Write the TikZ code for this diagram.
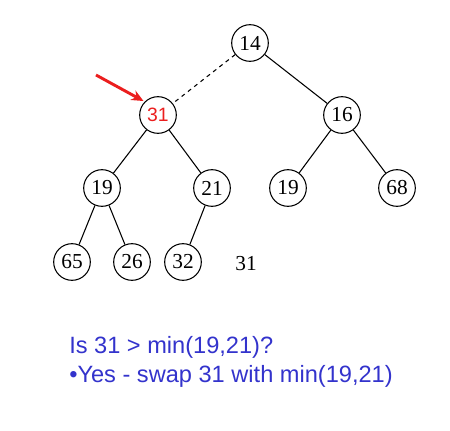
\documentclass[tikz,border=0pt]{standalone}
\usepackage{fontspec}
\setmainfont{Liberation Serif}
\setsansfont{Liberation Sans}
\usepackage{xcolor}
\usetikzlibrary{arrows.meta,positioning}
\definecolor{noteblue}{RGB}{51,51,204}
\definecolor{markred}{RGB}{235,30,30}

\begin{document}
\begin{tikzpicture}[
        x=0.75pt,y=-0.75pt,
        font=\fontsize{16}{18}\selectfont,
        >=Stealth,
        heapnode/.style={circle,draw,line width=0.8pt,minimum size=27.5pt,inner sep=0pt},
        edge/.style={line width=0.8pt},
        note/.style={font=\sffamily\fontsize{17.7}{21.75}\selectfont,text=noteblue,anchor=base west,inner sep=0pt}
    ]
        \useasboundingbox (0,0) rectangle (450,431);
        \node[heapnode] (root) at (250,43) {14};
        \node[heapnode,text=markred,font=\sffamily\fontsize{14.5}{16}\selectfont] (left) at (158,115) {31};
        \node[heapnode] (right) at (342,115) {16};
        \node[heapnode] (ll) at (102,188) {19};
        \node[heapnode] (lr) at (212,188) {21};
        \node[heapnode] (rl) at (288,188) {19};
        \node[heapnode] (rr) at (397,188) {68};
        \node[heapnode] (lll) at (72,262) {65};
        \node[heapnode] (llr) at (132,262) {26};
        \node[heapnode] (lrl) at (183,262) {32};
        \node (spare) at (246,264) {31};
        \coordinate (tail) at (96,75);

        \draw[edge,dashed] (root) -- (left);
        \draw[edge] (root) -- (right);
        \draw[edge] (left) -- (ll);
        \draw[edge] (left) -- (lr);
        \draw[edge] (right) -- (rl);
        \draw[edge] (right) -- (rr);
        \draw[edge] (ll) -- (lll);
        \draw[edge] (ll) -- (llr);
        \draw[edge] (lr) -- (lrl);
        \draw[-{Stealth[length=9pt,width=8pt]},markred,line width=2.2pt,shorten >=1pt] (tail) -- (left.north west);

        \node[note] (question) at (69,353) {Is 31 > min(19,21)?};
        \node[note] (answer) at (69,382) {\textbullet Yes - swap 31 with min(19,21)};
    \end{tikzpicture}
\end{document}
